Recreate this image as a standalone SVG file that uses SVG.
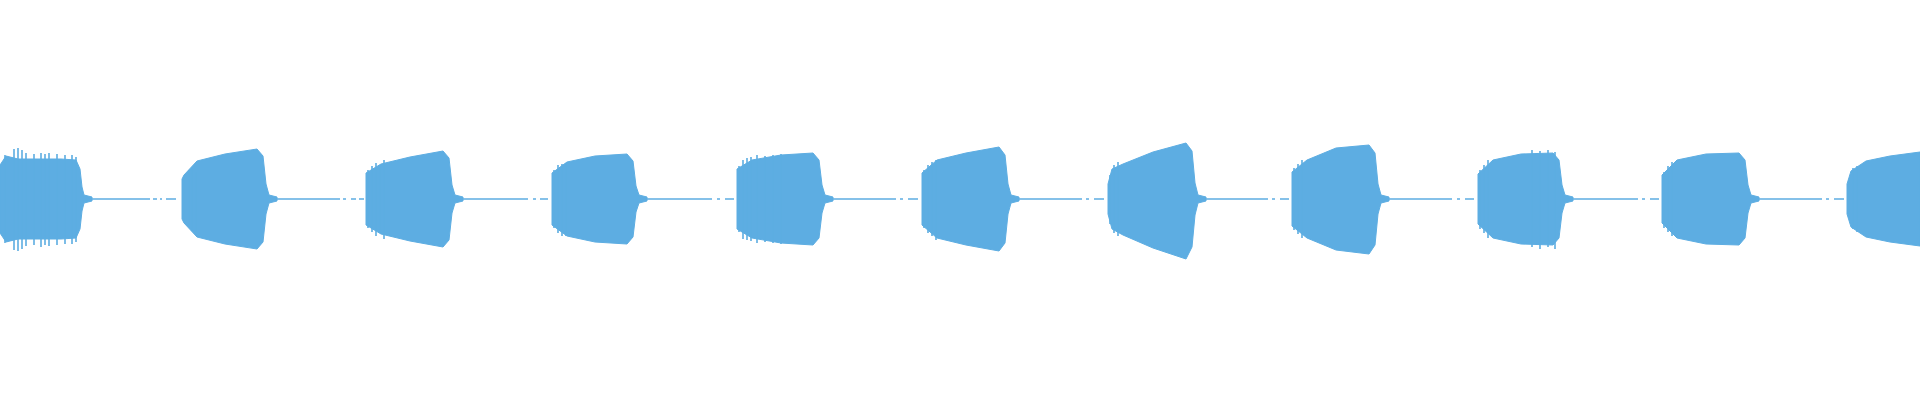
<svg xmlns="http://www.w3.org/2000/svg" width="1920" height="400" viewBox="0 0 1920 400">
<style>
.b{fill:#5DADE2;stroke:#5DADE2;stroke-width:1}
.l{stroke:#5DADE2;stroke-width:1.5;fill:none}
.s{stroke:#5DADE2;stroke-width:1.6;fill:none}
</style>
<rect width="1920" height="400" fill="#fff"/>
<g id="bursts">
<path class="b" d="M0,165 L6,156 L18,159 L61,159 L76,160 L80,169 L82,187 L84,195 L92,197 L92,201 L84,203 L82,211 L80,229 L76,238 L61,239 L18,239 L6,242 L0,233 Z"/>
<path class="b" d="M182,179 L184,175 L197,161 L225,154 L257,149 L263,156 L266,184 L269,195 L277,197 L277,201 L269,203 L266,214 L263,242 L257,249 L225,244 L197,237 L184,223 L182,219 Z"/>
<path class="b" d="M366,173 L381,164 L410,157 L443,151 L449,158 L452,185 L455,195 L463,197 L463,201 L455,203 L452,213 L449,240 L443,247 L410,241 L381,234 L366,225 Z"/>
<path class="b" d="M552,173 L567,162 L595,156 L627,154 L633,161 L636,186 L639,195 L647,197 L647,201 L639,203 L636,212 L633,237 L627,244 L595,242 L567,236 L552,225 Z"/>
<path class="b" d="M737,169 L752,160 L781,155 L813,153 L819,160 L822,185 L825,195 L833,197 L833,201 L825,203 L822,213 L819,238 L813,245 L781,243 L752,238 L737,229 Z"/>
<path class="b" d="M922,173 L937,160 L966,153 L999,147 L1005,155 L1008,184 L1011,195 L1019,197 L1019,201 L1011,203 L1008,214 L1005,243 L999,251 L966,245 L937,238 L922,225 Z"/>
<path class="b" d="M1108,184 L1112,169 L1123,164 L1153,152 L1186,143 L1192,151 L1195,183 L1198,195 L1206,197 L1206,201 L1198,203 L1195,215 L1192,247 L1186,259 L1153,248 L1123,235 L1112,229 L1108,214 Z"/>
<path class="b" d="M1292,172 L1307,160 L1336,148 L1369,145 L1375,153 L1378,184 L1381,195 L1389,197 L1389,201 L1381,203 L1378,214 L1375,245 L1369,254 L1336,250 L1307,238 L1292,226 Z"/>
<path class="b" d="M1478,174 L1493,160 L1521,154 L1553,153 L1559,160 L1562,185 L1565,195 L1573,197 L1573,201 L1565,203 L1562,213 L1559,238 L1553,245 L1521,244 L1493,238 L1478,224 Z"/>
<path class="b" d="M1662,175 L1677,160 L1706,154 L1739,153 L1745,160 L1748,185 L1751,195 L1759,197 L1759,201 L1751,203 L1748,213 L1745,238 L1739,245 L1706,244 L1677,238 L1662,223 Z"/>
<path class="b" d="M1847,184 L1851,171 L1866,161 L1890,156 L1920,152 L1920,246 L1890,242 L1866,237 L1851,227 L1847,214 Z"/>
</g>
<g id="spikes">
<path class="s" d="M5,155V243 M14,149V250 M18,148V251 M22,150V249 M26,153V246 M34,154V245 M41,153V247 M45,154V245 M49,153V246 M57,154V245 M65,155V244 M72,155V244 M76,157V242
M184,176V222 M189,170V225 M192,169V231 M196,172V232
M368,170V228 M372,166V232 M376,163V236 M380,166V233 M384,160V239
M554,170V228 M558,165V233 M562,164V236 M566,163V236
M739,166V232 M743,160V239 M747,158V240 M751,157V241 M757,155V243 M765,156V242 M773,155V243 M781,154V244
M924,170V228 M928,165V233 M932,162V236 M936,160V240
M1110,175V224 M1114,165V233 M1118,162V236
M1294,168V230 M1298,164V234 M1302,160V238
M1480,170V229 M1484,165V233 M1488,160V238 M1532,150V247 M1540,151V249 M1548,150V247 M1555,152V249
M1664,172V228 M1668,166V232 M1672,162V236
M1849,180V218 M1853,168V229 M1857,166V232"/>
</g>
<g id="connectors">
<path class="l" d="M92,199H150 M153,199H157 M160,199H162 M166,199H176 M277,199H340 M343,199H346 M351,199H356 M359,199H364 M463,199H528 M533,199H536 M540,199H548 M647,199H712 M717,199H720 M725,199H734 M833,199H896 M900,199H903 M908,199H918 M1019,199H1082 M1086,199H1089 M1094,199H1104 M1206,199H1268 M1272,199H1275 M1280,199H1289 M1389,199H1452 M1457,199H1460 M1465,199H1474 M1573,199H1638 M1642,199H1645 M1650,199H1659 M1759,199H1822 M1826,199H1829 M1834,199H1844"/>
</g>
</svg>
